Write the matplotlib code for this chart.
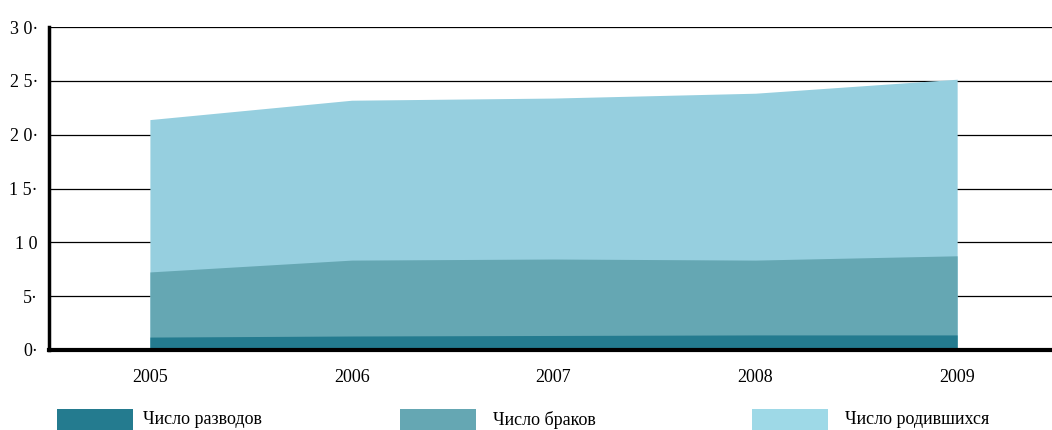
import numpy as np
import matplotlib.pyplot as plt
from matplotlib.patches import Rectangle

years = [2005, 2006, 2007, 2008, 2009]
births = [21.4, 23.2, 23.4, 23.85, 25.15]
marriages = [7.25, 8.35, 8.45, 8.35, 8.75]
divorces = [1.2, 1.3, 1.35, 1.4, 1.4]

ytick_vals = [0, 5, 10, 15, 20, 25, 30]
ytick_labels = ['0·', '5·', '1 0', '1 5·', '2 0·', '2 5·', '3 0·']
legend_labels = ['Число разводов', 'Число браков', 'Число родившихся']

c_div = '#247B8F'
c_mar = '#65A7B3'
c_bir = '#96CFDF'
c_bir_leg = '#9ED9E7'

plt.rcParams['font.family'] = ['Liberation Serif', 'DejaVu Serif']

fig = plt.figure(figsize=(10.52, 4.30), dpi=100)
ax = fig.add_axes([49/1052, 80/430, 1003/1052, 323/430])

ax.fill_between(years, 0, births, color=c_bir, lw=0, zorder=2)
ax.fill_between(years, 0, marriages, color=c_mar, lw=0, zorder=3)
ax.fill_between(years, 0, divorces, color=c_div, lw=0, zorder=4)

ax.set_xlim(2004.5, 2009.47)
ax.set_ylim(0, 30)
ax.set_yticks(ytick_vals)
ax.set_yticklabels(ytick_labels, fontsize=13)
ax.set_xticks(years)
ax.set_xticklabels([str(y) for y in years], fontsize=13)
ax.tick_params(axis='both', length=0)
ax.tick_params(axis='x', pad=14)
ax.tick_params(axis='y', pad=8)
ax.grid(axis='y', color='black', lw=0.9, zorder=1)
ax.set_axisbelow(True)

for s in ['top', 'right']:
    ax.spines[s].set_visible(False)
ax.spines['left'].set_linewidth(2.5)
ax.spines['bottom'].set_linewidth(3)
ax.spines['left'].set_zorder(6)
ax.spines['bottom'].set_zorder(6)

# legend drawn along the bottom
leg_x = [57, 400, 752]
txt_x = [143, 493, 845]
leg_cols = [c_div, c_mar, c_bir_leg]
for lx, tx, col, lab in zip(leg_x, txt_x, leg_cols, legend_labels):
    fig.add_artist(Rectangle((lx/1052, 0), 76/1052, 21/430,
                             transform=fig.transFigure, color=col, lw=0))
    fig.text(tx/1052, 10/430, lab, fontsize=13, va='center', ha='left')

plt.savefig('out.png', dpi=100)
